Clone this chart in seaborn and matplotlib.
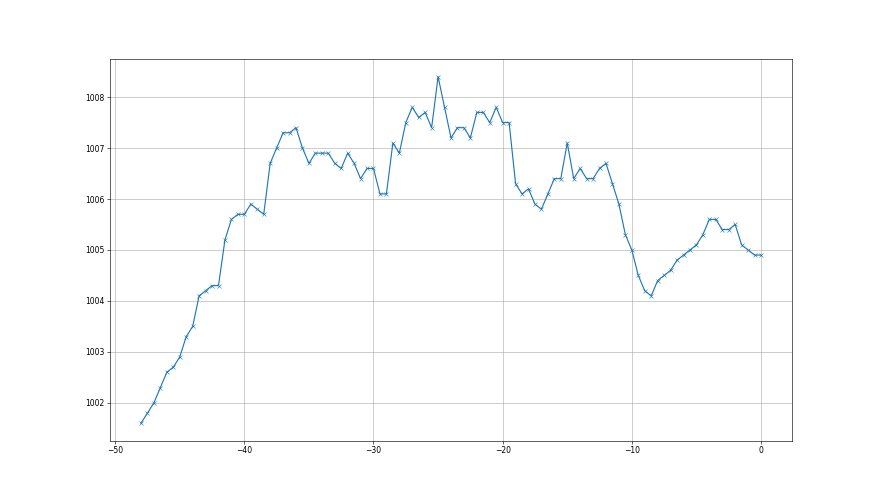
import numpy as np
import pandas as pd
import seaborn as sns
import matplotlib
matplotlib.use('Agg')
import matplotlib.pyplot as plt

# horas relativas (paso de media hora) y presion en hPa
horas = np.arange(-48, 0.5, 0.5)
presion = [
    1001.6, 1001.8, 1002.0, 1002.3, 1002.6, 1002.7, 1002.9, 1003.3, 1003.5, 1004.1,
    1004.2, 1004.3, 1004.3, 1005.2, 1005.6, 1005.7, 1005.7, 1005.9, 1005.8, 1005.7,
    1006.7, 1007.0, 1007.3, 1007.3, 1007.4, 1007.0, 1006.7, 1006.9, 1006.9, 1006.9,
    1006.7, 1006.6, 1006.9, 1006.7, 1006.4, 1006.6, 1006.6, 1006.1, 1006.1, 1007.1,
    1006.9, 1007.5, 1007.8, 1007.6, 1007.7, 1007.4, 1008.4, 1007.8, 1007.2, 1007.4,
    1007.4, 1007.2, 1007.7, 1007.7, 1007.5, 1007.8, 1007.5, 1007.5, 1006.3, 1006.1,
    1006.2, 1005.9, 1005.8, 1006.1, 1006.4, 1006.4, 1007.1, 1006.4, 1006.6, 1006.4,
    1006.4, 1006.6, 1006.7, 1006.3, 1005.9, 1005.3, 1005.0, 1004.5, 1004.2, 1004.1,
    1004.4, 1004.5, 1004.6, 1004.8, 1004.9, 1005.0, 1005.1, 1005.3, 1005.6, 1005.6,
    1005.4, 1005.4, 1005.5, 1005.1, 1005.0, 1004.9, 1004.9,
]

datos = pd.DataFrame({'hora': horas, 'presion': presion})

fig, ax = plt.subplots(figsize=(16, 9), dpi=55)
sns.lineplot(data=datos, x='hora', y='presion', marker='x', color='#1f77b4',
             markeredgecolor='#1f77b4', ax=ax)
ax.grid(True, color='#b0b0b0', linewidth=0.8)
ax.set(xlabel='', ylabel='')

plt.savefig('out.png', dpi=55)
